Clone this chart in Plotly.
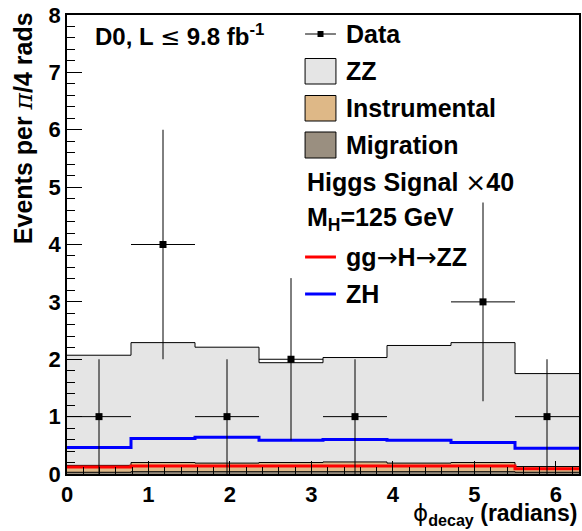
import numpy as np
import plotly.graph_objects as go

# ---------------- data ----------------
bin_edges = [i * np.pi / 4 for i in range(9)]
data_counts = [1, 4, 1, 2, 1, 0, 3, 1]
zz = [1.92, 2.09, 2.02, 1.74, 1.82, 2.05, 2.09, 1.62]
instrumental = [0.12, 0.16, 0.15, 0.16, 0.17, 0.15, 0.16, 0.10]
migration = [0.03, 0.04, 0.04, 0.04, 0.04, 0.04, 0.04, 0.03]
ggH = [0.12, 0.14, 0.14, 0.14, 0.14, 0.14, 0.14, 0.09]
zh = [0.46, 0.62, 0.64, 0.59, 0.60, 0.59, 0.55, 0.45]
x_ticks = [0, 1, 2, 3, 4, 5, 6]
y_ticks = [0, 1, 2, 3, 4, 5, 6, 7, 8]

W, H = 582, 531
L, R, T, B = 67, 581, 15, 474  # plot area in pixels

def px(x):
    return (x - L) / (R - L)

def py(y):
    return (B - y) / (B - T)

edges = np.array(bin_edges)
centers = 0.5 * (edges[:-1] + edges[1:])
half = np.pi / 8

def step(vals):
    v = list(vals)
    return list(edges), v + [v[-1]]

mig_top = np.array(migration)
instr_top = mig_top + np.array(instrumental)
zz_top = instr_top + np.array(zz)

fig = go.Figure()

for vals, fill in [(zz_top, "#e5e5e5"), (instr_top, "#deb887"), (mig_top, "#9a8f80")]:
    xs, ys = step(vals)
    fig.add_trace(go.Scatter(x=xs, y=ys, mode="lines", line=dict(shape="hv", color="black", width=1),
                             fill="tozeroy", fillcolor=fill, showlegend=False, hoverinfo="skip"))

for vals, col in [(ggH, "#ff0000"), (zh, "#0000ff")]:
    xs, ys = step(vals)
    fig.add_trace(go.Scatter(x=xs, y=ys, mode="lines", line=dict(shape="hv", color=col, width=3),
                             showlegend=False, hoverinfo="skip"))

dc = np.array(data_counts, dtype=float)
mask = dc > 0
fig.add_trace(go.Scatter(
    x=centers[mask], y=dc[mask], mode="markers",
    marker=dict(symbol="square", size=7, color="black"),
    error_x=dict(type="constant", value=half, color="black", thickness=1, width=0),
    error_y=dict(type="data", array=np.sqrt(dc[mask]), color="black", thickness=1, width=0),
    showlegend=False))

font_t = dict(family="Liberation Sans", size=22, color="black", weight="bold")
font_b = dict(family="Liberation Sans", size=25, color="black", weight="bold")
font_s = dict(family="Liberation Sans", size=24, color="black", weight="bold")
font_x = dict(family="Liberation Sans", size=23, color="black", weight="bold")
SYM = '<span style="font-family:DejaVu Sans;font-weight:normal">{}</span>'

shapes = []
ann = []

# legend
lx0, lx1, tx = 306, 337, 345
shapes.append(dict(type="line", xref="paper", yref="paper", x0=px(lx0), x1=px(lx1), y0=py(34), y1=py(34),
                   line=dict(color="black", width=1)))
shapes.append(dict(type="rect", xref="paper", yref="paper", x0=px(318.5), x1=px(324.5), y0=py(37), y1=py(31),
                   fillcolor="black", line=dict(width=0)))
for (y0, y1, col) in [(58.5, 84, "#e5e5e5"), (95.5, 121, "#deb887"), (132, 158, "#9a8f80")]:
    shapes.append(dict(type="rect", xref="paper", yref="paper", x0=px(lx0), x1=px(lx1), y0=py(y1), y1=py(y0),
                       fillcolor=col, line=dict(color="black", width=1)))
for (yy, col) in [(257, "#ff0000"), (294, "#0000ff")]:
    shapes.append(dict(type="line", xref="paper", yref="paper", x0=px(lx0), x1=px(lx1), y0=py(yy), y1=py(yy),
                       line=dict(color=col, width=3)))

legend_texts = [
    (tx, 34, "Data"),
    (tx, 71, "ZZ"),
    (tx, 108, "Instrumental"),
    (tx, 145, "Migration"),
    (lx0, 182, "Higgs Signal " + SYM.format("×") + "40"),
    (lx0, 219, "M<sub>H</sub>=125 GeV"),
    (tx, 257, "gg" + SYM.format("→") + "H" + SYM.format("→") + "ZZ"),
    (tx, 294, "ZH"),
]
for (x, y, t) in legend_texts:
    ann.append(dict(xref="paper", yref="paper", x=px(x), y=py(y), text=t, showarrow=False,
                    xanchor="left", yanchor="middle", font=font_b))

ann.append(dict(xref="paper", yref="paper", x=px(93), y=py(36),
                text="D0, L " + SYM.format("≤") + " 9.8 fb<sup>-1</sup>",
                showarrow=False, xanchor="left", yanchor="middle", font=font_s))
ann.append(dict(xref="paper", yref="paper", x=px(24), y=py(128),
                text="Events per " + '<span style="font-family:DejaVu Serif;font-weight:normal"><i>π</i></span>' + "/4 rads",
                showarrow=False, textangle=-90, xanchor="center", yanchor="middle", font=font_b))
ann.append(dict(xref="paper", yref="paper", x=px(581), y=py(531), yanchor="bottom",
                text=SYM.format("ϕ") + "<sub>decay</sub> (radians)",
                showarrow=False, xanchor="right", font=font_x))

fig.update_layout(
    width=W, height=H,
    margin=dict(l=L, r=W - R, t=T, b=H - B, pad=0),
    paper_bgcolor="white", plot_bgcolor="white",
    shapes=shapes, annotations=ann, showlegend=False,
)
fig.update_xaxes(range=[0, 2 * np.pi], tickvals=x_ticks, ticks="inside", ticklen=13, tickwidth=1,
                 tickcolor="black", showgrid=False, zeroline=False, showline=True, linecolor="black",
                 linewidth=1.5, mirror=True, tickfont=font_t,
                 minor=dict(dtick=0.2, ticks="inside", ticklen=7, tickcolor="black", showgrid=False))
fig.update_yaxes(range=[0, 8], tickvals=y_ticks, ticks="inside", ticklen=15, tickwidth=1,
                 tickcolor="black", showgrid=False, zeroline=False, showline=True, linecolor="black",
                 linewidth=1.5, mirror=True, tickfont=font_t,
                 minor=dict(dtick=0.2, ticks="inside", ticklen=8, tickcolor="black", showgrid=False))

fig.write_html("out.html")
